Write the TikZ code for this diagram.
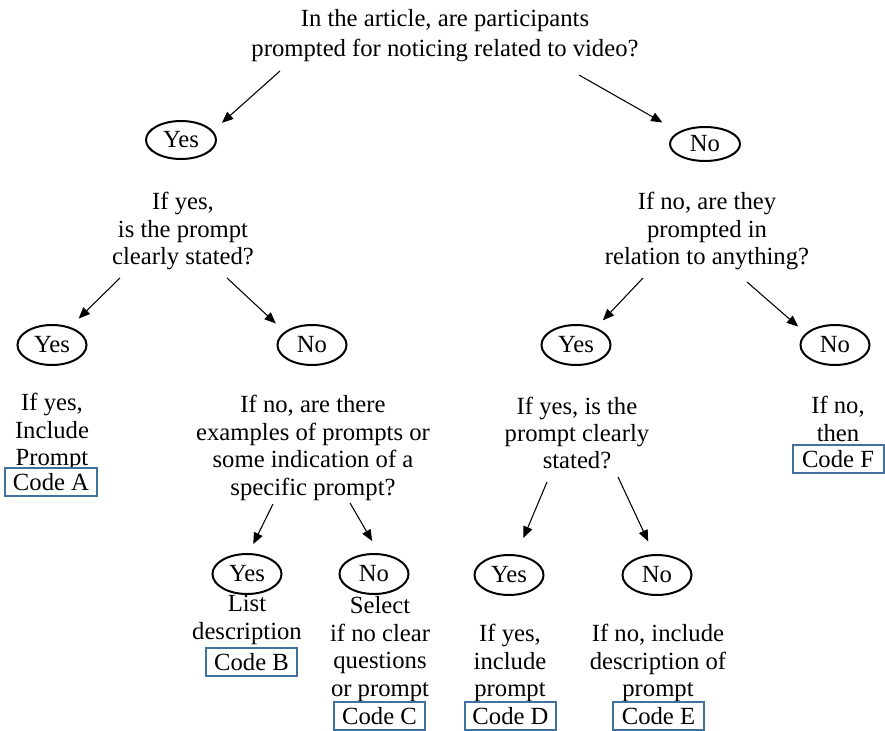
\documentclass[tikz,border=0pt]{standalone}
\usepackage{fontspec}
\setmainfont{Liberation Serif}
\usetikzlibrary{shapes.geometric,arrows.meta}
\definecolor{codeblue}{HTML}{41719C}
\tikzset{
  txt/.style={align=center,inner sep=0pt,font=\fontsize{18.5}{20.6}\selectfont},
  oval/.style={ellipse,draw=black,line width=1.5pt,inner sep=0pt,minimum width=51.75pt,minimum height=30pt,font=\fontsize{18.5}{20.6}\selectfont},
  codebox/.style={draw=codeblue,fill=white,line width=1.5pt,inner sep=0pt,minimum width=68.25pt,minimum height=21pt,font=\fontsize{18.5}{20.6}\selectfont},
  arr/.style={line width=0.8pt,-{Triangle[length=8.5pt,width=7pt]}}
}
\begin{document}
\begin{tikzpicture}[x=0.75pt,y=-0.75pt]
\useasboundingbox (0,0) rectangle (885,731);
% question / text nodes
\node[txt,font=\fontsize{18.5}{22.5}\selectfont] (q0) at (445,36) {In the article, are participants\\prompted for noticing related to video?};
\node[oval,minimum width=52.5pt,minimum height=28.5pt] (y1) at (181,140) {Yes};
\node[oval,minimum width=52.5pt,minimum height=25.5pt] (n1) at (705,144) {No};
\node[txt] (q1) at (183,231) {If yes,\\is the prompt\\clearly stated?};
\node[txt] (q2) at (707,231) {If no, are they\\prompted in\\relation to anything?};
\node[oval] (y2) at (52,345) {Yes};
\node[oval] (n2) at (312,345) {No};
\node[oval] (y3) at (576,345) {Yes};
\node[oval] (n3) at (835,345) {No};
\node[txt] (ta) at (52,432) {If yes,\\Include\\Prompt};
\node[txt] (q3) at (313,448) {If no, are there\\examples of prompts or\\some indication of a\\specific prompt?};
\node[txt] (q4) at (577,433) {If yes, is the\\prompt clearly\\stated?};
\node[txt] (tf) at (838,419) {If no,\\then};
\node[oval] (y4) at (247,574) {Yes};
\node[oval] (n4) at (374,574) {No};
\node[oval] (y5) at (509,575) {Yes};
\node[oval] (n5) at (657,575) {No};
\node[txt] (tb) at (247,620) {List\\description};
\node[txt] (tc) at (380,649) {Select\\if no clear\\questions\\or prompt};
\node[txt] (td) at (510,663) {If yes,\\include\\prompt};
\node[txt] (te) at (658,663) {If no, include\\description of\\prompt};
% code boxes
\node[codebox,minimum width=69pt] (ca) at (51,482) {Code A};
\node[codebox] (cb) at (251.5,662) {Code B};
\node[codebox] (cc) at (379.5,716) {Code C};
\node[codebox] (cd) at (510.5,716) {Code D};
\node[codebox] (ce) at (658.5,716) {Code E};
\node[codebox] (cf) at (838,459) {Code F};
% arrow start points
\coordinate (s1) at (280,71);
\coordinate (s2) at (579,75);
\coordinate (s3) at (120,278);
\coordinate (s4) at (227,278);
\coordinate (s5) at (643,278);
\coordinate (s6) at (747,282);
\coordinate (s7) at (273,504);
\coordinate (s8) at (350,503);
\coordinate (s9) at (547,482);
\coordinate (s10) at (618,477);
% connectors
\draw[arr,shorten >=9pt] (s1) -- (y1.16);
\draw[arr,shorten >=14pt] (s2) -- (n1.155);
\draw[arr,shorten >=9pt] (s3) -- (y2.45);
\draw[arr,shorten >=9pt] (s4) -- (n2.154);
\draw[arr,shorten >=7.5pt] (s5) -- (y3.41);
\draw[arr,shorten >=7.5pt] (s6) -- (n3.158);
\draw[arr,shorten >=7.5pt] (s7) -- (y4.85);
\draw[arr,shorten >=10.5pt] (s8) -- (n4.76);
\draw[arr,shorten >=13.5pt] (s9) -- (y5.70);
\draw[arr,shorten >=10.5pt] (s10) -- (n5.98);
\end{tikzpicture}
\end{document}
